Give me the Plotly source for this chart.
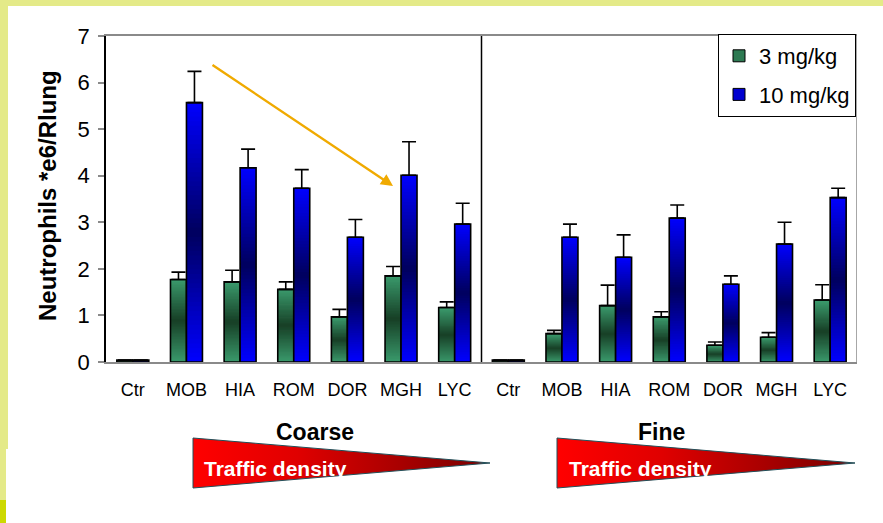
import plotly.graph_objects as go

# ---- data -------------------------------------------------------------
categories = ["Ctr", "MOB", "HIA", "ROM", "DOR", "MGH", "LYC",
              "Ctr", "MOB", "HIA", "ROM", "DOR", "MGH", "LYC"]
dose3 = [0.04, 1.77, 1.72, 1.56, 0.97, 1.85, 1.17,
         0.04, 0.61, 1.21, 0.97, 0.36, 0.53, 1.33]
dose3_upper = [None, 1.93, 1.97, 1.72, 1.13, 2.05, 1.29,
               None, 0.68, 1.65, 1.08, 0.43, 0.63, 1.66]
dose10 = [0.04, 5.57, 4.17, 3.73, 2.68, 4.01, 2.96,
          0.04, 2.68, 2.25, 3.09, 1.67, 2.53, 3.53]
dose10_upper = [None, 6.24, 4.57, 4.13, 3.06, 4.73, 3.41,
                None, 2.96, 2.73, 3.37, 1.85, 3.00, 3.73]
series_names = ["3 mg/kg", "10 mg/kg"]
ytick_values = [0, 1, 2, 3, 4, 5, 6, 7]
group_labels = ["Coarse", "Fine"]

FONT = "Liberation Sans, Arial, sans-serif"
W, H = 883, 523
# plot area in pixels
PX0, PX1, PY0, PY1 = 106, 857, 36, 362

xs = list(range(len(categories)))
BAR_W = 0.298
N_SEG = 56


def hex_rgb(h):
    h = h.lstrip("#")
    return tuple(int(h[i:i + 2], 16) for i in (0, 2, 4))


def mix(c1, c2, t):
    a, b = hex_rgb(c1), hex_rgb(c2)
    return "rgb(%d,%d,%d)" % tuple(round(a[i] + (b[i] - a[i]) * t) for i in range(3))


fig = go.Figure()


def gradient_bars(values, upper, offset, edge, centre, name, legend_col):
    # vertical "edge -> centre -> edge" gradient built from stacked slices;
    # each slice reaches a little into the next one so no seams show
    for k in range(N_SEG):
        t_mid = (k + 0.5) / N_SEG
        col = mix(edge, centre, 1 - abs(2 * t_mid - 1))
        h = 1.0 if k == N_SEG - 1 else 1.6
        fig.add_trace(go.Bar(
            x=xs, y=[v * h / N_SEG for v in values],
            base=[v * k / N_SEG for v in values],
            width=BAR_W, offset=offset,
            marker=dict(color=col, line=dict(width=0)),
            showlegend=False, hoverinfo="skip"))
    # outline + upper error bar
    plus = [None if u is None else round(u - v, 3) for v, u in zip(values, upper)]
    fig.add_trace(go.Bar(
        x=xs, y=values, width=BAR_W, offset=offset,
        marker=dict(color="rgba(0,0,0,0)", line=dict(color="black", width=1.6)),
        error_y=dict(type="data", array=plus, arrayminus=[0] * len(values),
                     symmetric=False, color="black", thickness=1.6, width=7),
        showlegend=False, hoverinfo="skip"))
    # legend entry
    fig.add_trace(go.Bar(
        x=[None], y=[None], name=name, legendgroup=name,
        marker=dict(color=legend_col, line=dict(color="black", width=1))))


gradient_bars(dose3, dose3_upper, -BAR_W, "#3a9a6c", "#173f26", series_names[0], "#2d7a52")
gradient_bars(dose10, dose10_upper, 0, "#0000ff", "#00005e", series_names[1], "#0000d0")

# ---- decorative triangles (pixel overlay axis) -------------------------
tri_left = [193, 490, 438, 488]
tri_right = [557, 855, 438, 488]
for x0, x1, yt, yb in (tri_left, tri_right):
    ym = (yt + yb) / 2
    fig.add_trace(go.Scatter(
        x=[x0, x1, x0, x0], y=[yt, ym, yb, yt], xaxis="x2", yaxis="y2",
        mode="lines", fill="toself", line=dict(color="#20505a", width=1),
        fillgradient=dict(type="horizontal",
                          colorscale=[[0, "#ff0000"], [0.35, "#e00000"], [1, "#780000"]]),
        showlegend=False, hoverinfo="skip"))

fx = lambda p: (p - PX0) / (PX1 - PX0) * 14 - 0.5
fy = lambda p: (PY1 - p) / (PY1 - PY0) * 7

annotations = [
    dict(text="<b>Neutrophils *e6/Rlung</b>", x=47, y=196, xref="x2", yref="y2",
         textangle=-90, showarrow=False, font=dict(family=FONT, size=24, color="black")),
    dict(text="<b>%s</b>" % group_labels[0], x=315, y=432, xref="x2", yref="y2",
         showarrow=False, font=dict(family=FONT, size=23, color="black")),
    dict(text="<b>%s</b>" % group_labels[1], x=661, y=432, xref="x2", yref="y2",
         showarrow=False, font=dict(family=FONT, size=23, color="black")),
    dict(text="<b>Traffic density</b>", x=275, y=468, xref="x2", yref="y2",
         showarrow=False, font=dict(family=FONT, size=21, color="white")),
    dict(text="<b>Traffic density</b>", x=640, y=468, xref="x2", yref="y2",
         showarrow=False, font=dict(family=FONT, size=21, color="white")),
    # trend arrow from MOB down to MGH
    dict(x=fx(393), y=fy(186), ax=fx(211), ay=fy(64),
         xref="x", yref="y", axref="x", ayref="y", text="", showarrow=True,
         arrowhead=2, arrowsize=1, arrowwidth=2.4, arrowcolor="#f0aa00"),
]

py = lambda p: 1 - p / H
pxf = lambda p: p / W
shapes = [
    # frame
    dict(type="rect", xref="paper", yref="paper", x0=0, x1=1, y0=py(6), y1=1,
         fillcolor="#e4ea88", line_width=0, layer="below"),
    dict(type="rect", xref="paper", yref="paper", x0=0, x1=pxf(8), y0=py(449), y1=1,
         fillcolor="#e4ea88", line_width=0, layer="below"),
    dict(type="rect", xref="paper", yref="paper", x0=0, x1=pxf(6), y0=py(500), y1=py(449),
         fillcolor="#e4ea88", line_width=0, layer="below"),
    dict(type="rect", xref="paper", yref="paper", x0=0, x1=pxf(6), y0=0, y1=py(500),
         fillcolor="#cdd900", line_width=0, layer="below"),
    # panel divider and borders
    dict(type="line", xref="x", yref="y", x0=6.5, x1=6.5, y0=-0.12, y1=7,
         line=dict(color="black", width=1.5)),
    dict(type="line", xref="x", yref="y", x0=13.5, x1=13.5, y0=-0.12, y1=7,
         line=dict(color="#8a8a8a", width=1.5)),
    dict(type="line", xref="x", yref="y", x0=-0.5, x1=-0.5, y0=-0.12, y1=0,
         line=dict(color="black", width=1.5)),
]

fig.update_layout(
    template="none",
    width=W, height=H,
    margin=dict(l=0, r=0, t=0, b=0, pad=0, autoexpand=False),
    paper_bgcolor="white", plot_bgcolor="rgba(0,0,0,0)",
    barmode="overlay",
    font=dict(family=FONT, color="black"),
    xaxis=dict(domain=[PX0 / W, PX1 / W], range=[-0.5, 13.5], automargin=False,
               tickvals=xs, ticktext=categories, ticks="",
               tickfont=dict(size=18, family=FONT, color="black"),
               ticklabelstandoff=11,
               showline=True, linecolor="#8a8a8a", linewidth=1.5, mirror=True,
               showgrid=False, zeroline=False, fixedrange=True),
    yaxis=dict(domain=[1 - PY1 / H, 1 - PY0 / H], range=[0, 7], automargin=False,
               tickvals=ytick_values, ticks="outside", ticklen=6,
               tickcolor="#8a8a8a", tickwidth=1.5,
               tickfont=dict(size=22, family=FONT, color="black"),
               ticklabelstandoff=4,
               showline=True, linecolor="black", linewidth=1.5,
               showgrid=False, zeroline=False, fixedrange=True),
    xaxis2=dict(domain=[0, 1], range=[0, W], anchor="y2", visible=False,
                automargin=False, fixedrange=True),
    yaxis2=dict(domain=[0, 1], range=[H, 0], anchor="x2", visible=False,
                automargin=False, fixedrange=True),
    legend=dict(x=856 / W, xanchor="right", y=1 - 34 / H, yanchor="top",
                bgcolor="white", bordercolor="black", borderwidth=1,
                font=dict(size=22, family=FONT, color="black"),
                tracegroupgap=7, itemwidth=30),
    annotations=annotations,
    shapes=shapes,
)

fig.write_html("out.html")
